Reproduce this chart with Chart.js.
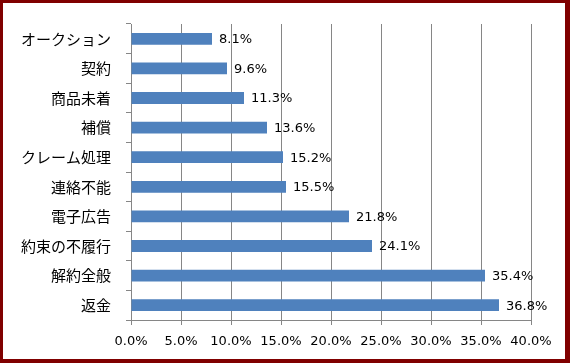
<!DOCTYPE html>
<html>
<head>
<meta charset="utf-8">
<script src="https://cdn.jsdelivr.net/npm/chart.js@4"></script>
<style>
  html, body { margin:0; padding:0; background:#fff; }
  #wrap { position:relative; width:570px; height:363px; }
  #frame { position:absolute; left:0; top:0; width:570px; height:363px; box-sizing:border-box;
           border-style:solid; border-color:#800000; border-width:3px 5px 4px 3px; pointer-events:none; }
</style>
</head>
<body>
<div id="wrap">
  <canvas id="chart" width="570" height="363"></canvas>
  <div id="frame"></div>
</div>
<script>
const categories = ['オークション','契約','商品未着','補償','クレーム処理','連絡不能','電子広告','約束の不履行','解約全般','返金'];
const values = [8.1, 9.6, 11.3, 13.6, 15.2, 15.5, 21.8, 24.1, 35.4, 36.8];
const xTicks = [0, 5, 10, 15, 20, 25, 30, 35, 40];

const JP = '"Noto Sans CJK JP", sans-serif';
const NUM = '"DejaVu Sans", sans-serif';

// value labels at bar ends
const barLabels = {
  id: 'barLabels',
  afterDatasetsDraw(chart) {
    const ctx = chart.ctx;
    const meta = chart.getDatasetMeta(0);
    ctx.save();
    ctx.font = '13px ' + NUM;
    ctx.fillStyle = '#000';
    ctx.textBaseline = 'middle';
    ctx.textAlign = 'left';
    meta.data.forEach((bar, i) => {
      ctx.fillText(values[i].toFixed(1) + '%', bar.x + 7, bar.y + 1);
    });
    ctx.restore();
  }
};

new Chart(document.getElementById('chart'), {
  type: 'bar',
  data: {
    labels: categories,
    datasets: [{ data: values, backgroundColor: '#4F81BD', borderWidth: 0,
                 barPercentage: 0.4, categoryPercentage: 1 }]
  },
  options: {
    indexAxis: 'y',
    responsive: false,
    animation: false,
    layout: { padding: { top: 16, right: 39, left: 0, bottom: 0 } },
    plugins: { legend: { display: false }, tooltip: { enabled: false } },
    scales: {
      x: {
        min: 0, max: 40,
        afterBuildTicks(s) { s.ticks = xTicks.map(v => ({ value: v })); },
        afterFit(s) { s.height = 43; },
        grid: { color: '#868686', lineWidth: 1, tickLength: 5, drawTicks: true },
        border: { color: '#868686' },
        ticks: { font: { family: NUM, size: 13 }, color: '#000', padding: 9,
                 callback: v => v.toFixed(1) + '%', maxRotation: 0 }
      },
      y: {
        afterFit(s) { s.width = 131; },
        grid: { drawOnChartArea: false, color: '#868686', tickLength: 5, offset: true },
        border: { color: '#868686' },
        ticks: { font: { family: JP, size: 15 }, color: '#000', padding: 15 }
      }
    }
  },
  plugins: [barLabels]
});
</script>
</body>
</html>
